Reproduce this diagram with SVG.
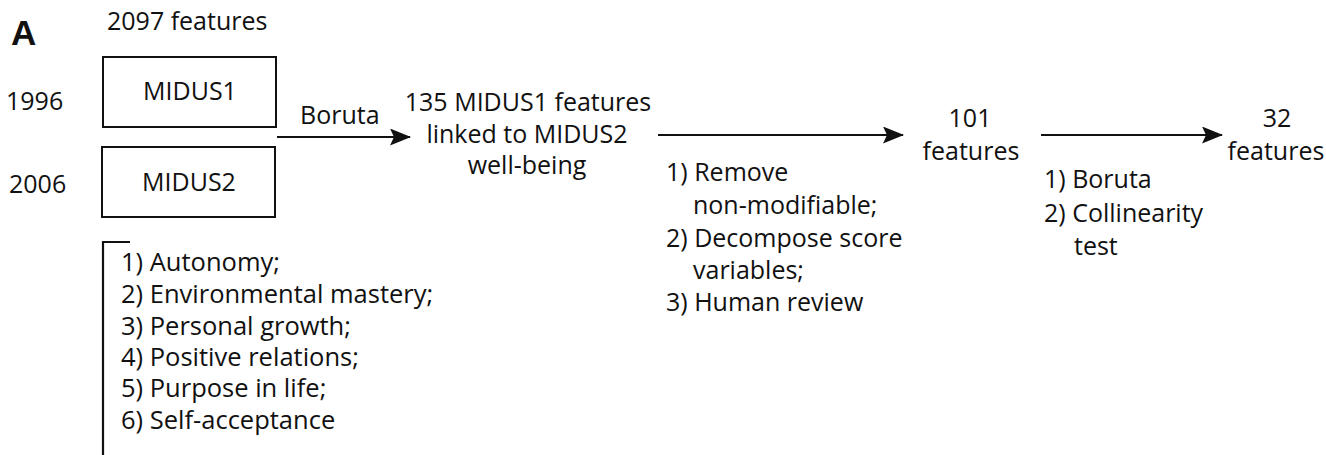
<svg xmlns="http://www.w3.org/2000/svg" width="1326" height="455" viewBox="0 0 1326 455">
<style>
text{font-family:"Open Sans","Noto Sans",sans-serif;font-size:25px;fill:#111}
.c{text-anchor:middle}
.lst{font-size:25.5px}
.box{fill:#fff;stroke:#111;stroke-width:2}
.ln{stroke:#111;stroke-width:2.2;fill:none}
</style>
<defs>
<marker id="ah" markerUnits="userSpaceOnUse" markerWidth="22" markerHeight="18" refX="20" refY="8.5" orient="auto">
<path d="M0,0 L21,8.5 L0,17 L4,8.5 z" fill="#111"/>
</marker>
</defs>
<rect width="1326" height="455" fill="#fff"/>
<text x="11" y="45" style="font-family:'Liberation Sans',Arial,sans-serif;font-weight:bold;font-size:35px">A</text>
<g id="label-2097"><text x="107" y="30">2097 features</text></g>
<g id="year-1996"><text x="6" y="110">1996</text></g>
<g id="year-2006"><text x="9" y="193">2006</text></g>
<g id="midus1"><rect class="box" x="103" y="57" width="173" height="70"/><text class="c" x="190" y="100">MIDUS1</text></g>
<g id="midus2"><rect class="box" x="102" y="147" width="173" height="70"/><text class="c" x="189" y="191">MIDUS2</text></g>
<g id="wellbeing-list">
<path class="ln" d="M130,242 H103 V455"/>
<text class="lst" x="121" y="271">1) Autonomy;</text>
<text class="lst" x="121" y="303">2) Environmental mastery;</text>
<text class="lst" x="121" y="335">3) Personal growth;</text>
<text class="lst" x="121" y="366">4) Positive relations;</text>
<text class="lst" x="121" y="397">5) Purpose in life;</text>
<text class="lst" x="121" y="429">6) Self-acceptance</text>
</g>
<g id="n135">
<text class="c" x="528" y="111">135 MIDUS1 features</text>
<text class="c" x="527" y="143">linked to MIDUS2</text>
<text class="c" x="527" y="174">well-being</text>
</g>
<g id="n101"><text class="c" x="970" y="127">101</text><text class="c" x="971" y="160">features</text></g>
<g id="n32"><text class="c" x="1277" y="127">32</text><text class="c" x="1276" y="160">features</text></g>
<g id="connectors">
<line class="ln" x1="277" y1="137" x2="410" y2="137" marker-end="url(#ah)"/>
<text x="300" y="124">Boruta</text>
<line class="ln" x1="658" y1="135" x2="903" y2="135" marker-end="url(#ah)"/>
<text x="666" y="181">1) Remove</text>
<text x="693" y="214">non-modifiable;</text>
<text x="666" y="247">2) Decompose score</text>
<text x="693" y="279">variables;</text>
<text x="666" y="311">3) Human review</text>
<line class="ln" x1="1041" y1="135" x2="1222" y2="135" marker-end="url(#ah)"/>
<text x="1044" y="188">1) Boruta</text>
<text x="1044" y="222">2) Collinearity</text>
<text x="1074" y="255">test</text>
</g>
</svg>
